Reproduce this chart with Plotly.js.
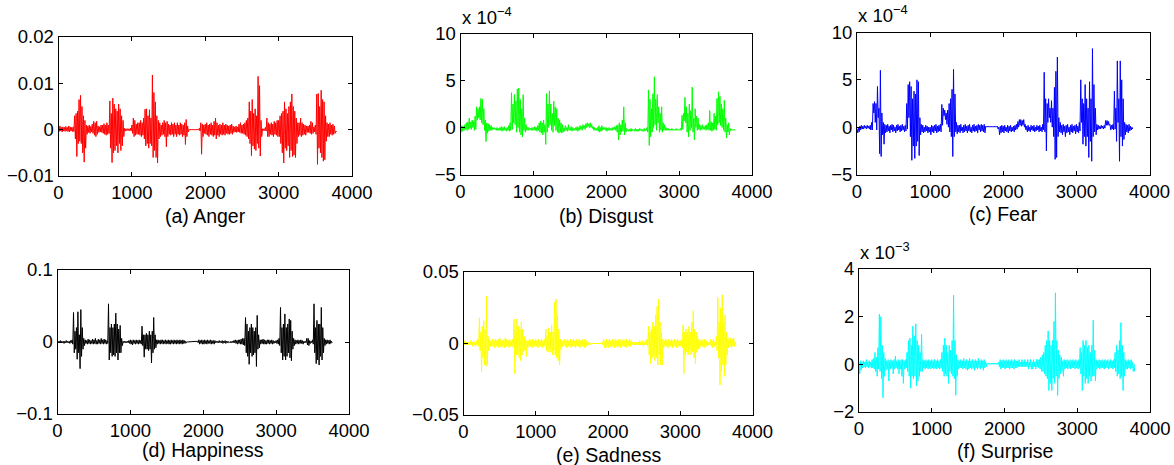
<!DOCTYPE html>
<html>
<head>
<meta charset="utf-8">
<script src="https://cdn.plot.ly/plotly-3.0.1.min.js"></script>
<style>
html,body{margin:0;padding:0;background:#fff;}
#chart{width:1174px;height:465px;}
</style>
</head>
<body>
<div id="chart"></div>
<script>
// Signals: alternating local high / low values, one value every 10 samples.
const sampleStep = 10;

// (a) Anger, in units of 1e-3
const anger = [
 1.0,-0.4, 0.8,-0.3, 0.5,-0.5, 0.6,-0.3, 0.5,-0.4, 0.7,-0.3, 0.5,-0.4, 0.8,-0.5, 0.6,-0.3, 0.5,-0.4,
 0.6,-0.4, 3.0,-2.0, 3.5,-5.8, 4.0,-3.0, 6.5,-2.5, 7.4,-3.0, 5.0,-5.0, 3.0,-7.0, 2.0,-4.0, 1.0,-1.0,
 0.8,-0.6, 1.0,-0.8, 0.7,-0.5, 1.2,-0.8, 1.8,-1.2, 1.5,-1.5, 1.8,-1.0, 0.8,-0.6, 0.6,-0.5, 1.0,-0.6,
 1.0,-0.8, 1.3,-1.0, 1.0,-1.2, 1.5,-1.0, 1.0,-0.8, 6.2,-4.0, 3.5,-7.1, 6.8,-5.0, 5.5,-4.5, 4.5,-3.5,
 4.0,-5.0, 5.5,-3.0, 4.5,-4.5, 3.0,-3.5, 2.0,-1.5, 0.3,-0.3, 0.2,-0.2, 0.2,-0.2, 0.2,-0.2, 0.3,-0.3,
 1.0,-0.8, 2.5,-1.5, 2.0,-1.2, 1.2,-1.0, 1.5,-1.0, 1.5,-1.2, 2.0,-1.5, 1.5,-1.2, 2.5,-2.0, 4.4,-3.5,
 4.5,-3.0, 3.0,-4.0, 4.3,-3.0, 2.5,-3.5, 11.8,-6.0, 8.0,-4.5, 6.0,-6.0, 3.0,-7.2, 2.0,-2.0, 1.5,-1.5,
 1.0,-1.2, 1.5,-1.0, 2.0,-1.5, 1.5,-3.7, 1.8,-1.5, 1.2,-1.0, 1.0,-1.2, 1.5,-1.0, 1.2,-1.5, 1.5,-1.0,
 1.0,-1.5, 1.5,-1.0, 1.0,-1.2, 1.5,-1.0, 1.2,-1.5, 1.0,-1.2, 1.5,-3.2, 2.2,-1.5, 0.8,-0.5, 0.1,-0.1,
 0.1,-0.1, 0.1,-0.1, 0.1,-0.1, 0.1,-0.1, 0.1,-0.1, 0.1,-0.1, 0.3,-0.3, 1.5,-5.3, 1.2,-1.5, 1.0,-0.8,
 1.2,-1.0, 1.5,-1.2, 1.0,-1.5, 1.2,-1.0, 1.5,-1.2, 1.0,-1.5, 1.8,-1.2, 2.5,-2.0, 1.5,-1.2, 1.0,-1.5,
 1.2,-1.0, 1.0,-1.2, 1.5,-1.0, 1.0,-1.2, 1.2,-0.8, 1.0,-1.0, 0.8,-1.0, 1.0,-0.8, 1.2,-1.0, 0.8,-0.6,
 0.6,-0.5, 0.8,-0.6, 0.6,-0.5, 1.2,-0.6, 1.5,-0.8, 1.0,-0.8, 1.2,-1.0, 1.5,-1.2, 2.0,-1.5, 2.5,-2.0,
 6.0,-3.0, 4.0,-5.6, 6.5,-3.5, 3.5,-4.2, 4.5,-4.5, 3.0,-3.0, 11.5,-4.0, 9.5,-5.7, 2.0,-1.5, 0.2,-0.2,
 0.2,-0.2, 0.5,-0.3, 2.5,-1.5, 1.5,-1.5, 1.2,-1.0, 1.5,-1.2, 1.2,-1.5, 1.8,-1.0, 1.5,-1.2, 2.0,-1.5,
 2.0,-1.5, 3.0,-3.0, 3.5,-5.0, 4.0,-7.2, 6.0,-4.0, 4.5,-4.5, 3.5,-3.5, 5.0,-6.0, 6.0,-4.5, 7.7,-5.8,
 5.0,-5.5, 4.0,-6.0, 2.5,-3.0, 1.5,-1.5, 1.5,-1.2, 2.5,-1.5, 1.5,-1.2, 1.2,-1.0, 1.0,-1.2, 0.8,-0.6,
 0.8,-0.6, 1.0,-0.8, 1.8,-1.0, 1.5,-0.8, 0.6,-0.5, 1.0,-1.0, 7.7,-7.5, 7.8,-4.0, 5.0,-5.0, 8.5,-6.0,
 6.5,-6.8, 6.0,-6.5, 3.0,-2.5, 1.5,-1.5, 1.2,-1.5, 1.5,-1.0, 1.0,-1.2, 1.2,-1.0, 0.8,-0.8, -0.3,-0.5
];

// (b) Disgust, in units of 1e-4
const disgust = [
 0.0,-0.5, 0.2,-0.4, 0.1,-0.3, 0.3,-0.2, 0.5,-0.3, 0.6,-0.2, 1.0,-0.1, 0.6,-0.2, 0.8,0.0, 0.7,-0.3,
 1.2,-0.2, 2.2,0.8, 2.0,1.0, 2.2,0.8, 3.1,0.5, 3.0,0.3, 2.0,-0.3, 0.8,-1.5, 0.5,-0.6, 0.4,-0.4,
 0.3,-0.3, 0.2,-0.3, 0.0,-0.2, 0.0,-0.2, -0.1,-0.3, 0.0,-0.3, -0.1,-0.3, 0.0,-0.3, 0.1,-0.4, 0.0,-0.3,
 0.1,-0.3, -0.1,-0.4, 0.0,-0.3, 0.2,-0.4, 0.5,-0.3, 3.7,-0.2, 2.5,0.5, 3.5,0.3, 2.8,-0.5, 4.1,0.0,
 4.2,-0.5, 3.0,-0.8, 2.0,-1.0, 3.5,-0.3, 1.0,-0.5, 0.3,-0.3, 0.0,-0.3, 0.0,-0.2, -0.1,-0.3, 0.0,-0.3,
 0.0,-0.3, 0.1,-0.3, 0.0,-0.4, 0.2,-0.3, 0.5,-0.5, 0.7,-0.6, 0.5,-0.8, 0.8,-0.5, 0.3,-1.8, 3.6,-0.5,
 2.5,0.0, 3.9,0.3, 2.5,-0.3, 1.5,-0.5, 2.8,0.2, 2.2,-0.3, 2.0,-0.5, 1.0,-0.6, 0.8,-0.5, 0.5,-0.6,
 0.3,-0.5, 0.0,-0.4, 0.2,-0.3, 0.0,-0.4, 0.3,-0.3, 0.0,-0.3, 0.1,-0.4, 0.0,-0.3, -0.1,-0.3, 0.0,-0.3,
 0.1,-0.4, 0.0,-0.3, 0.2,-0.2, 0.1,-0.3, 0.3,-0.1, 0.2,-0.2, 0.4,0.0, 0.5,0.1, 0.4,0.0, 0.5,0.0,
 0.3,-0.1, 0.1,-0.3, 0.0,-0.3, -0.1,-0.3, 0.0,-0.4, 0.2,-0.5, 0.0,-0.4, 0.2,-0.3, 0.0,-0.2, 0.0,-0.3,
 0.0,-0.4, -0.1,-0.3, 0.0,-0.3, -0.1,-0.3, 0.0,-0.3, 0.0,-0.2, 0.1,-0.3, 0.2,-0.5, 0.3,-1.3, 0.5,-0.8,
 0.3,-0.5, 0.8,-0.4, 2.2,-0.8, 0.5,-0.5, -0.1,-0.3, -0.2,-0.4, -0.2,-0.4, -0.1,-0.4, -0.2,-0.3, -0.2,-0.4,
 -0.1,-0.4, -0.2,-0.4, -0.2,-0.4, -0.1,-0.3, -0.2,-0.4, -0.2,-0.4, -0.1,-0.4, -0.2,-0.3, 0.0,-0.5, 4.0,-1.9,
 3.0,-1.0, 2.0,-0.5, 3.6,0.0, 5.4,0.3, 3.0,-0.3, 3.5,0.5, 2.2,-0.5, 1.5,-0.3, 2.2,-0.5, 0.5,-0.3,
 0.3,-0.3, 0.0,-0.3, -0.1,-0.3, -0.1,-0.3, -0.2,-0.3, -0.1,-0.3, -0.2,-0.3, -0.2,-0.3, -0.1,-0.3, -0.2,-0.3,
 -0.2,-0.3, -0.1,-0.3, 1.3,-0.2, 1.5,0.7, 3.2,0.5, 2.2,-0.5, 1.5,-1.0, 2.5,-0.3, 1.8,0.0, 4.3,-0.5,
 1.0,-1.3, 2.0,0.0, 1.2,-0.3, 1.0,-0.2, 0.3,-0.3, 0.2,-0.2, 0.3,-0.2, 0.1,-0.2, 0.2,-0.3, 0.3,-0.2,
 0.5,-0.3, 1.8,-0.3, 0.6,-0.4, 0.5,-0.3, 1.5,-0.2, 1.2,-0.3, 3.1,0.3, 3.8,0.5, 3.3,0.2, 2.5,0.0,
 2.0,-0.3, 2.9,-0.5, 1.0,-1.1, 0.3,-0.5, 0.5,-0.8, -0.1,-0.3, -0.2,-0.3, -0.2,-0.3, -0.2,-0.3
];

// (c) Fear, in units of 1e-4
const fear = [
 -0.2,-0.6, 0.0,-0.5, 0.1,-0.3, 0.2,-0.2, 0.1,-0.2, 0.2,-0.1, 0.1,-0.2, 0.2,-0.1, 0.1,-0.2, 0.2,-0.3,
 0.5,-0.3, 2.5,1.5, 2.7,0.5, 2.5,-0.3, 4.3,1.0, 2.0,-2.8, 6.0,-3.1, 1.5,-0.8, 0.5,-1.8, 0.3,-0.6,
 0.2,-0.5, 0.3,-0.4, 0.1,-0.6, 0.2,-0.3, 0.3,-0.5, 0.2,-0.4, 0.0,-0.6, 0.2,-0.4, 0.3,-0.3, 0.1,-0.5,
 0.2,-0.4, 0.3,-0.3, 0.1,-0.5, 0.2,-0.4, 2.5,-0.2, 4.5,1.0, 4.8,-1.0, 4.3,-3.5, 3.0,-2.0, 3.8,-3.3,
 3.5,-2.0, 5.0,-1.5, 4.8,-3.0, 1.0,-0.8, 0.3,-0.5, 0.2,-0.6, 0.0,-0.5, 0.2,-0.4, 0.1,-0.6, 0.0,-0.5,
 0.0,-0.8, 0.2,-0.5, 0.1,-0.6, 0.2,-0.4, 0.3,-0.6, 0.1,-0.5, 0.2,-0.4, 0.3,-0.5, 2.4,0.2, 2.0,1.2,
 1.8,0.8, 1.5,0.3, 1.8,0.0, 2.5,-0.5, 3.0,-1.0, 4.0,-3.1, 6.1,-1.0, 3.5,-0.5, 0.5,-0.7, 0.2,-0.5,
 0.2,-0.6, 0.3,-0.4, 0.0,-0.6, 0.2,-0.5, 0.3,-0.4, 0.1,-0.6, 0.2,-0.4, 0.3,-0.5, 0.0,-0.6, 0.2,-0.4,
 0.3,-0.5, 0.1,-0.4, 0.2,-0.6, 0.3,-0.3, 0.2,-0.5, 0.3,-0.4, 0.2,-0.5, 0.3,-0.6, 0.1,0.0, 0.1,0.0,
 0.1,0.0, 0.1,0.0, 0.1,0.0, 0.1,0.0, 0.1,0.0, 0.1,0.0, 0.1,-0.2, 0.0,-0.8, 0.1,-0.6, 0.2,-0.5,
 0.1,-0.6, 0.2,-0.4, 0.0,-0.5, 0.2,-0.6, 0.1,-0.4, 0.2,-0.5, 0.0,-0.4, 0.1,-0.5, 0.2,-0.3, 0.3,-0.2,
 0.6,0.0, 0.8,0.2, 0.8,0.1, 0.7,0.2, 0.8,0.0, 0.3,-0.3, 0.1,-0.5, 0.2,-0.4, 0.0,-0.5, 0.2,-0.3,
 0.1,-0.4, 0.2,-0.5, 0.0,-0.4, 0.2,-0.3, 0.1,-0.5, 0.2,-0.4, 0.0,-0.5, 0.3,-0.3, 5.8,-0.5, 3.0,-2.5,
 2.5,0.5, 3.0,1.0, 2.0,0.5, 2.8,0.0, 2.0,-1.0, 4.2,-3.4, 5.9,-3.2, 7.4,-1.0, 1.0,-0.5, 0.5,-0.6,
 0.2,-0.8, 0.3,-0.5, 0.1,-1.0, 0.2,-0.6, 0.3,-0.5, 0.0,-0.8, 0.2,-0.5, 0.3,-0.6, 0.1,-0.4, 0.2,-0.7,
 0.3,-0.5, 0.1,-0.6, 0.5,-0.4, 5.0,0.5, 3.0,-1.8, 2.5,-1.0, 4.5,-2.0, 3.0,-1.0, 2.0,-3.2, 4.8,-1.5,
 3.0,-3.6, 8.3,-1.0, 4.5,-0.5, 2.0,-0.8, 0.3,-0.3, 0.2,-0.2, 0.1,-0.2, 0.2,-0.1, 0.1,-0.2, 0.2,-0.1,
 0.7,0.2, 0.7,0.2, 0.6,0.2, 0.3,-0.3, 0.2,-0.2, 0.3,-0.3, 3.8,-0.2, 2.0,-1.5, 7.0,0.5, 3.0,-3.6,
 7.0,-1.0, 5.0,-2.0, 3.0,-1.3, 0.5,-0.8, 0.3,-0.5, 0.2,-0.6, 0.3,-0.4, 0.1,-0.3, 0.0,-0.2
];

// (d) Happiness, in units of 1e-2
const happiness = [
 0.1,-0.1, 0.1,-0.1, 0.2,-0.1, 0.1,-0.1, 0.1,-0.2, 0.1,-0.1, 0.2,-0.1, 0.1,-0.1, 0.1,-0.2, 0.2,-0.1,
 0.3,-0.3, 4.1,-1.5, 1.5,-1.0, 2.0,-2.4, 4.2,-1.5, 1.0,-3.7, 4.5,-2.0, 2.0,-1.0, 0.5,-0.5, 0.3,-0.2,
 0.2,-0.3, 0.4,-0.2, 0.3,-0.3, 0.2,-0.2, 0.4,-0.3, 0.3,-0.2, 0.5,-0.3, 0.2,-0.3, 0.4,-0.2, 0.3,-0.3,
 0.5,-0.2, 0.3,-0.3, 0.4,-0.2, 0.3,-0.3, 0.2,-0.2, 5.3,-2.5, 2.0,-1.5, 2.5,-2.0, 2.0,-1.8, 2.5,-2.0,
 4.0,-1.5, 2.5,-2.5, 1.8,-1.5, 2.3,-1.5, 0.5,-0.5, 0.1,-0.1, 0.1,-0.1, 0.1,-0.1, 0.1,-0.1, 0.2,-0.2,
 0.3,-0.3, 0.2,-0.4, 0.3,-0.2, 0.2,-0.3, 0.3,-0.2, 0.2,-0.3, 0.3,-0.2, 0.2,-0.3, 2.2,-0.5, 1.0,-2.1,
 1.0,-1.0, 1.2,-1.0, 1.0,-1.2, 1.5,-1.0, 1.0,-2.9, 1.5,-1.5, 3.4,-1.0, 1.0,-0.8, 0.3,-0.3, 0.3,-0.2,
 0.2,-0.3, 0.3,-0.2, 0.3,-0.3, 0.2,-0.2, 0.3,-0.3, 0.2,-0.2, 0.3,-0.3, 0.2,-0.3, 0.3,-0.2, 0.2,-0.3,
 0.3,-0.2, 0.2,-0.3, 0.3,-0.2, 0.2,-0.3, 0.3,-0.2, 0.2,-0.3, 0.3,-0.2, 0.2,-0.2, 0.1,-0.1, 0.0,0.0,
 0.0,0.0, 0.0,0.0, 0.0,0.0, 0.0,0.0, 0.0,0.0, 0.0,0.0, 0.1,-0.1, 0.3,-0.3, 0.2,-0.2, 0.3,-0.3,
 0.2,-0.3, 0.3,-0.2, 0.2,-0.3, 0.3,-0.2, 0.2,-0.2, 0.3,-0.3, 0.2,-0.2, 0.2,-0.3, 0.2,-0.1, 0.1,-0.1,
 0.1,-0.1, 0.2,-0.1, 0.1,-0.1, 0.2,-0.2, 0.1,-0.1, 0.2,-0.2, 0.1,-0.1, 0.1,-0.1, 0.0,-0.1, 0.1,-0.1,
 0.1,-0.1, 0.2,-0.1, 0.3,-0.2, 0.2,-0.3, 0.3,-0.2, 0.3,-0.3, 0.4,-0.3, 0.5,-0.4, 0.5,-0.5, 3.4,-1.5,
 2.5,-2.0, 1.5,-3.1, 2.0,-1.5, 2.5,-2.0, 2.0,-1.8, 1.5,-1.5, 2.0,-3.4, 3.7,-1.0, 1.0,-0.8, 0.3,-0.3,
 0.3,-0.2, 0.4,-0.3, 0.3,-0.3, 0.2,-0.3, 0.3,-0.2, 0.3,-0.3, 0.2,-0.2, 0.3,-0.3, 0.2,-0.2, 0.1,-0.1,
 0.2,-0.2, 0.3,-0.3, 0.5,-0.5, 4.8,-1.5, 2.0,-2.5, 2.5,-2.0, 3.9,-2.5, 2.0,-2.0, 2.5,-1.5, 3.2,-2.2,
 3.0,-2.6, 1.5,-1.0, 0.5,-0.5, 0.3,-0.3, 0.2,-0.2, 0.3,-0.3, 0.2,-0.2, 0.3,-0.2, 0.2,-0.3, 0.1,-0.1,
 0.1,-0.1, 0.5,-0.4, 0.5,-0.5, 0.2,-0.2, 0.1,-0.1, 0.3,-0.3, 5.3,-1.5, 2.0,-3.0, 3.0,-2.5, 2.5,-3.2,
 2.5,-2.0, 4.8,-2.5, 2.0,-1.5, 0.5,-0.5, 0.3,-0.3, 0.3,-0.2, 0.2,-0.3, 0.3,-0.2, 0.1,-0.1
];

// (e) Sadness, in units of 1e-2
const sadness = [
 0.2,-0.1, 0.2,-0.1, 0.1,-0.1, 0.1,-0.1, 0.1,-0.1, 0.2,-0.1, 0.1,-0.2, 0.2,-0.1, 0.1,-0.2, 0.2,-0.1,
 0.3,-0.2, 1.8,-0.5, 0.8,-2.0, 1.2,-1.0, 1.6,-1.5, 1.0,-1.6, 3.3,-1.5, 0.5,-0.5, 0.3,-0.2, 0.2,-0.2,
 0.3,-0.2, 0.2,-0.3, 0.3,-0.2, 0.2,-0.2, 0.3,-0.3, 0.4,-0.2, 0.3,-0.3, 0.2,-0.2, 0.3,-0.3, 0.4,-0.2,
 0.3,-0.2, 0.2,-0.3, 0.3,-0.2, 0.2,-0.2, 0.3,-0.3, 1.7,-2.1, 1.0,-0.8, 1.7,-0.8, 1.2,-1.0, 1.0,-1.2,
 1.5,-0.8, 1.0,-0.6, 0.5,-0.5, 0.3,-0.9, 0.2,-0.3, 0.2,-0.2, 0.3,-0.2, 0.2,-0.3, 0.3,-0.2, 0.2,-0.2,
 0.3,-0.2, 0.2,-0.3, 0.3,-0.2, 0.2,-0.2, 0.3,-0.3, 0.2,-0.2, 0.3,-0.2, 1.0,-0.5, 0.5,-0.6, 1.1,-0.4,
 0.8,-0.6, 1.3,-0.8, 0.8,-0.5, 2.9,-0.8, 3.1,-1.0, 2.0,-1.2, 1.0,-1.5, 0.3,-0.4, 0.2,-0.2, 0.2,-0.1,
 0.3,-0.2, 0.2,-0.3, 0.3,-0.2, 0.2,-0.2, 0.3,-0.3, 0.2,-0.2, 0.3,-0.2, 0.2,-0.3, 0.3,-0.2, 0.2,-0.2,
 0.3,-0.3, 0.2,-0.2, 0.3,-0.2, 0.2,-0.3, 0.3,-0.2, 0.2,-0.2, 0.1,-0.1, 0.1,-0.1, 0.0,0.0, 0.0,0.0,
 0.0,0.0, 0.0,0.0, 0.0,0.0, 0.0,0.0, 0.0,0.0, 0.0,0.0, 0.1,-0.1, 0.3,-0.3, 0.2,-0.3, 0.3,-0.2,
 0.2,-0.3, 0.3,-0.2, 0.2,-0.3, 0.3,-0.2, 0.2,-0.3, 0.3,-0.2, 0.2,-0.3, 0.3,-0.2, 0.2,-0.3, 0.3,-0.2,
 0.2,-0.2, 0.3,-0.2, 0.2,-0.3, 0.3,-0.2, 0.2,-0.2, 0.3,-0.2, 0.2,-0.1, 0.1,-0.1, 0.1,-0.1, 0.1,-0.1,
 0.1,-0.1, 0.1,-0.1, 0.2,-0.1, 0.1,-0.1, 0.2,-0.2, 0.1,-0.1, 0.2,-0.1, 0.3,-0.2, 1.2,-0.8, 0.8,-1.4,
 1.0,-1.0, 1.5,-0.8, 1.2,-1.2, 2.0,-1.0, 2.6,-1.5, 3.1,-0.8, 1.5,-1.5, 0.8,-1.5, 0.3,-0.3, 0.2,-0.2,
 0.3,-0.2, 0.2,-0.3, 0.3,-0.2, 0.2,-0.2, 0.3,-0.3, 0.2,-0.2, 0.3,-0.2, 0.2,-0.3, 0.3,-0.2, 0.2,-0.2,
 0.2,-0.2, 0.3,-0.3, 1.3,-2.1, 0.8,-0.8, 1.0,-0.6, 0.8,-0.8, 1.2,-0.5, 0.8,-0.8, 1.5,-0.6, 2.3,-1.0,
 1.0,-1.4, 0.8,-0.6, 0.5,-0.4, 0.3,-0.3, 0.2,-0.2, 0.3,-0.2, 0.2,-0.3, 0.3,-0.2, 0.2,-0.2, 0.1,-0.1,
 0.1,-0.1, 0.3,-0.2, 0.2,-0.3, 0.3,-0.2, 0.1,-0.1, 0.5,-0.5, 3.2,-1.0, 1.5,-2.9, 2.5,-2.0, 3.4,-1.5,
 1.5,-2.3, 2.0,-1.5, 0.8,-0.8, 0.4,-0.3, 0.3,-0.2, 0.4,-0.3, 0.3,-0.2, 0.4,-0.2, 0.1,-0.1
];

// (f) Surprise, in units of 1e-3
const surprise = [
 0.1,-0.4, 0.15,-0.25, 0.1,-0.15, 0.15,-0.1, 0.1,-0.15, 0.2,-0.1, 0.1,-0.15, 0.15,-0.1, 0.1,-0.15, 0.2,-0.15,
 0.25,-0.2, 0.5,-0.3, 0.3,-0.5, 0.7,-0.2, 2.1,-0.3, 2.0,-0.6, 0.8,-1.4, 0.5,-0.5, 0.25,-0.25, 0.15,-0.2,
 0.2,-0.7, 0.15,-0.2, 0.2,-0.15, 0.15,-0.4, 0.2,-0.2, 0.35,-0.15, 0.15,-0.2, 0.2,-0.4, 0.15,-0.2, 0.2,-0.5,
 0.2,-0.8, 0.15,-0.2, 0.2,-0.15, 0.5,-0.3, 1.0,-0.5, 1.1,-1.0, 0.8,-0.5, 1.6,-0.6, 1.2,-0.5, 1.7,-0.9,
 1.0,-0.7, 0.8,-0.5, 0.5,-0.3, 1.26,-0.3, 0.2,-0.15, 0.15,-0.2, 0.2,-0.15, 0.15,-0.2, 0.2,-0.15, 0.15,-0.2,
 0.2,-0.15, 0.15,-0.2, 0.2,-0.15, 0.15,-0.2, 0.2,-0.15, 0.15,-0.2, 0.2,-0.15, 0.5,-0.3, 0.8,-0.5, 1.1,-0.4,
 0.8,-0.5, 0.5,-0.8, 0.8,-0.3, 0.6,-0.4, 1.0,-0.5, 2.9,-0.6, 1.0,-1.3, 0.4,-0.5, 0.2,-0.2, 0.15,-0.15,
 0.2,-0.15, 0.15,-0.2, 0.25,-0.15, 0.15,-0.2, 0.2,-0.25, 0.15,-0.2, 0.25,-0.15, 0.15,-0.2, 0.2,-0.15, 0.15,-0.25,
 0.2,-0.15, 0.15,-0.2, 0.25,-0.15, 0.15,-0.2, 0.2,-0.15, 0.15,-0.25, 0.2,-0.15, 0.1,-0.1, 0.05,0.0, 0.05,0.0,
 0.05,0.0, 0.05,0.0, 0.05,0.0, 0.05,0.0, 0.05,0.0, 0.05,0.0, 0.1,-0.1, 0.2,-0.2, 0.15,-0.15, 0.2,-0.15,
 0.15,-0.2, 0.2,-0.15, 0.15,-0.15, 0.2,-0.2, 0.15,-0.15, 0.2,-0.15, 0.15,-0.2, 0.2,-0.15, 0.15,-0.15, 0.15,-0.1,
 0.2,-0.1, 0.1,-0.1, 0.2,-0.1, 0.1,-0.1, 0.2,-0.1, 0.1,-0.1, 0.2,-0.2, 0.1,-0.1, 0.2,-0.2, 0.1,-0.2,
 0.2,-0.1, 0.1,-0.2, 0.2,-0.1, 0.2,-0.15, 0.2,-0.2, 0.3,-0.3, 0.4,-0.3, 0.5,-0.4, 0.8,-0.5, 1.0,-0.6,
 1.4,-1.1, 1.0,-0.8, 0.8,-1.1, 1.0,-0.6, 1.8,-0.8, 3.0,-0.5, 1.0,-1.3, 0.6,-0.6, 0.4,-0.4, 0.3,-0.3,
 0.15,-0.5, 0.2,-0.2, 0.15,-0.15, 0.2,-0.2, 0.15,-0.15, 0.2,-0.2, 0.15,-0.15, 0.2,-0.15, 0.15,-0.2, 0.2,-0.15,
 0.15,-0.2, 0.2,-0.15, 0.7,-0.4, 0.5,-1.1, 1.0,-0.5, 0.8,-0.8, 1.0,-0.6, 0.7,-0.8, 0.8,-0.5, 0.5,-0.7,
 0.8,-0.5, 1.85,-0.5, 0.6,-0.7, 0.2,-0.2, 0.15,-0.15, 0.2,-0.2, 0.15,-0.15, 0.2,-0.15, 0.15,-0.2, 0.2,-0.15,
 0.15,-0.15, 0.2,-0.2, 0.15,-0.15, 0.2,-0.15, 0.15,-0.2, 0.2,-0.15, 0.5,-0.3, 0.8,-0.5, 0.6,-0.4, 1.0,-0.6,
 1.75,-0.5, 0.8,-1.1, 0.5,-0.5, 0.2,-0.2, 0.15,-0.2, 0.2,-0.15, 0.15,-0.2, 0.2,-0.15, 0.1,-0.3, 0.0,-0.3
];

const panelTitles = ['(a) Anger', '(b) Disgust', '(c) Fear', '(d) Happiness', '(e) Sadness', '(f) Surprise'];
const panelSeries = [anger, disgust, fear, happiness, sadness, surprise];
const panelUnits = [1e-3, 1, 1, 1e-2, 1e-2, 1];
const panelColors = ['#ff0000', '#00ff00', '#0000ff', '#000000', '#ffff00', '#00ffff'];
const xTickVals = [0, 1000, 2000, 3000, 4000];
const yTickVals = [
  [-0.01, 0, 0.01, 0.02],
  [-5, 0, 5, 10],
  [-5, 0, 5, 10],
  [-0.1, 0, 0.1],
  [-0.05, 0, 0.05],
  [-2, 0, 2, 4]
];
const yTickText = [
  ['\u22120.01', '0', '0.01', '0.02'],
  ['\u22125', '0', '5', '10'],
  ['\u22125', '0', '5', '10'],
  ['\u22120.1', '0', '0.1'],
  ['\u22120.05', '0', '0.05'],
  ['\u22122', '0', '2', '4']
];
const exponentLabels = [null, '\u22124', '\u22124', null, null, '\u22123'];

// Layout geometry (pixels)
const W = 1174, H = 465;
const boxes = [
  [58.5, 352, 37, 176],
  [460.5, 752, 33.5, 174.5],
  [857, 1149.5, 32.5, 174.5],
  [57.5, 349, 270, 414],
  [463.5, 752.5, 272, 415],
  [859, 1150, 269, 412]
];
const titleY = [216, 216, 214, 450, 455, 451];

const font = 'Liberation Sans, Arial, Helvetica, sans-serif';
const traces = [];
const layout = {
  width: W, height: H,
  margin: {l: 0, r: 0, t: 0, b: 0},
  paper_bgcolor: '#ffffff', plot_bgcolor: '#ffffff',
  showlegend: false,
  font: {family: font, size: 18, color: '#000'},
  annotations: []
};

panelSeries.forEach((s, k) => {
  const n = k + 1;
  const xs = s.map((v, i) => i * sampleStep);
  const ys = s.map(v => v * panelUnits[k]);
  traces.push({
    type: 'scatter', mode: 'lines', x: xs, y: ys,
    xaxis: 'x' + (n === 1 ? '' : n), yaxis: 'y' + (n === 1 ? '' : n),
    line: {color: panelColors[k], width: 1},
    hoverinfo: 'skip'
  });
  const b = boxes[k];
  const yr = yTickVals[k];
  const common = {
    showgrid: false, zeroline: false, showline: true, mirror: 'allticks',
    linecolor: '#000', linewidth: 1, ticks: 'inside', ticklen: 4, tickwidth: 1,
    tickcolor: '#000', tickfont: {family: font, size: 18.5, color: '#000'}, fixedrange: true
  };
  layout['xaxis' + (n === 1 ? '' : n)] = Object.assign({}, common, {
    domain: [b[0] / W, b[1] / W], range: [0, 4000],
    tickmode: 'array', tickvals: xTickVals, ticktext: xTickVals.map(String),
    anchor: 'y' + (n === 1 ? '' : n)
  });
  layout['yaxis' + (n === 1 ? '' : n)] = Object.assign({}, common, {
    domain: [1 - b[3] / H, 1 - b[2] / H], range: [yr[0], yr[yr.length - 1]],
    tickmode: 'array', tickvals: yr, ticktext: yTickText[k],
    anchor: 'x' + (n === 1 ? '' : n)
  });
  layout.annotations.push({
    xref: 'paper', yref: 'paper', x: (b[0] + b[1]) / 2 / W, y: 1 - titleY[k] / H,
    xanchor: 'center', yanchor: 'middle', showarrow: false,
    text: panelTitles[k], font: {family: font, size: 19.5, color: '#000'}
  });
  if (exponentLabels[k]) {
    layout.annotations.push({
      xref: 'paper', yref: 'paper', x: (b[0] - 1) / W, y: 1 - (b[2] - 4) / H,
      xanchor: 'left', yanchor: 'bottom', showarrow: false,
      text: 'x 10<sup>' + exponentLabels[k] + '</sup>',
      font: {family: font, size: 18.5, color: '#000'}
    });
  }
});

Plotly.newPlot('chart', traces, layout, {staticPlot: true, displayModeBar: false});
</script>
</body>
</html>
